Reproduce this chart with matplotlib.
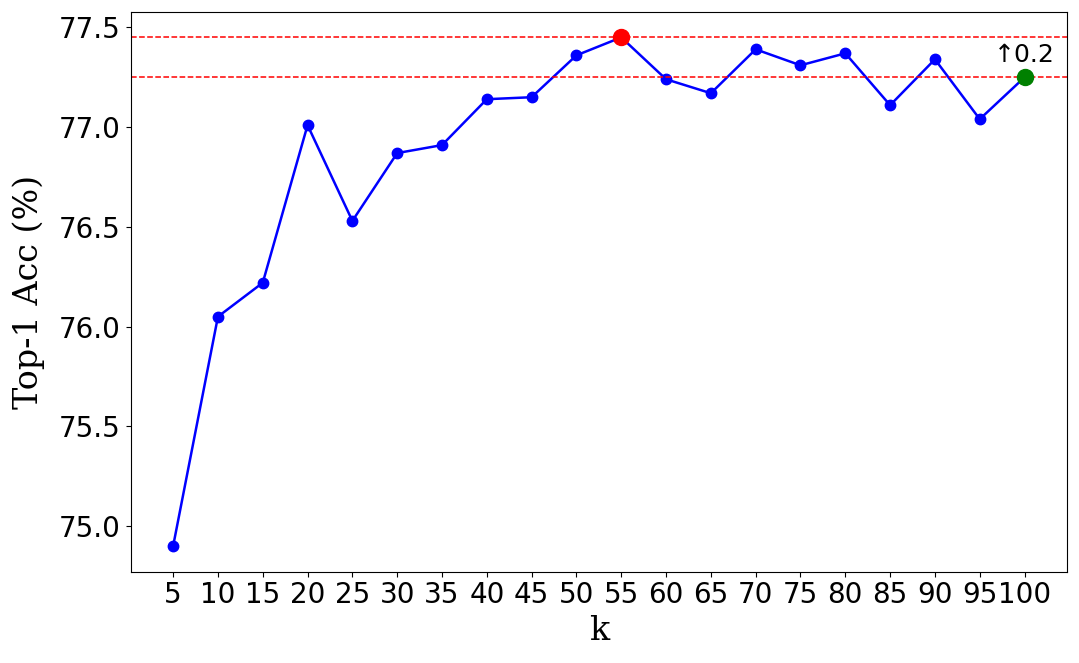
import matplotlib
matplotlib.use("Agg")
import matplotlib.pyplot as plt

k_values = [5, 10, 15, 20, 25, 30, 35, 40, 45, 50, 55, 60, 65, 70, 75, 80, 85, 90, 95, 100]
top1_acc = [74.90, 76.05, 76.22, 77.01, 76.53, 76.87, 76.91, 77.14, 77.15, 77.36,
            77.45, 77.24, 77.17, 77.39, 77.31, 77.37, 77.11, 77.34, 77.04, 77.25]

best_k, best_acc = 55, 77.45
last_k, last_acc = 100, 77.25
gain_text = "\u21910.2"


def main() -> None:
    fig, ax = plt.subplots(figsize=(10.79, 6.63), dpi=100)
    fig.subplots_adjust(left=0.121, right=0.989, top=0.982, bottom=0.138)

    ax.plot(k_values, top1_acc, color="blue", marker="o", markersize=7.5, linewidth=1.8)
    ax.axhline(best_acc, color="red", linestyle="--", linewidth=1.1)
    ax.axhline(last_acc, color="red", linestyle="--", linewidth=1.1)
    ax.plot(best_k, best_acc, "o", color="red", markersize=11.5)
    ax.plot(last_k, last_acc, "o", color="green", markersize=11.5)
    ax.text(last_k, last_acc + 0.05, gain_text, ha="center", va="bottom", fontsize=18)

    ax.set_xticks(k_values)
    ax.tick_params(axis="both", labelsize=20)
    ax.set_xlabel("k", fontsize=24, family="DejaVu Serif", labelpad=4)
    ax.set_ylabel("Top-1 Acc (%)", fontsize=24, family="DejaVu Serif", labelpad=10)

    fig.savefig("out.png", dpi=100)


if __name__ == "__main__":
    main()
